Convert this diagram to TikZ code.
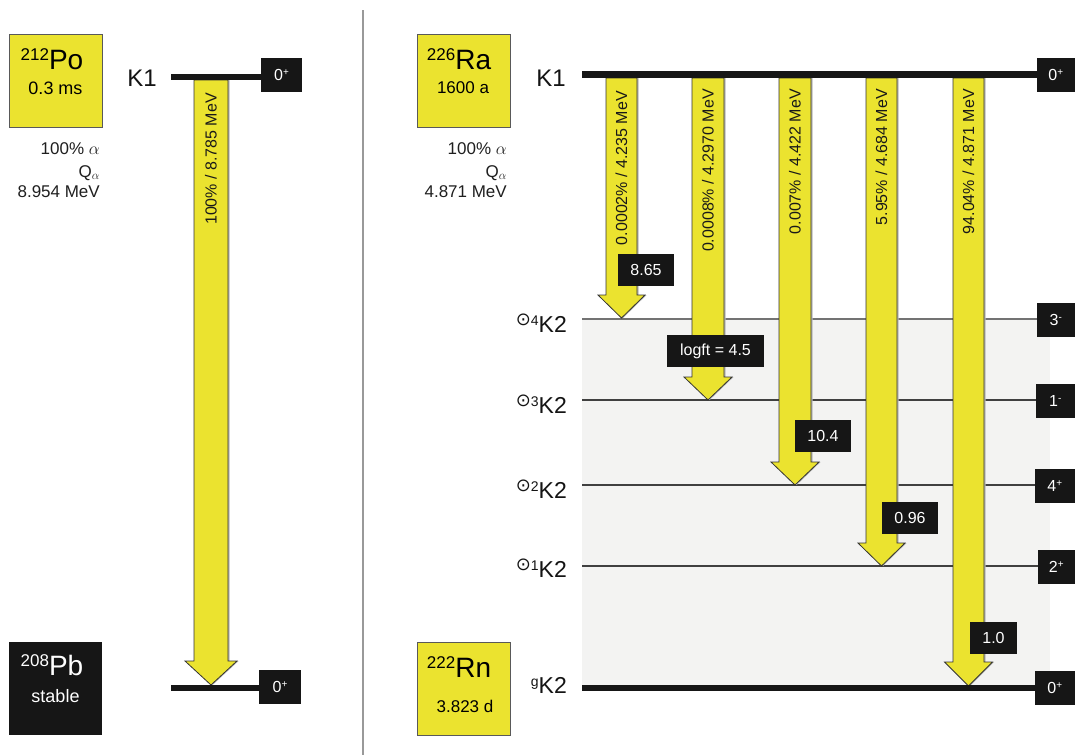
\documentclass[tikz,border=0pt]{standalone}
\usepackage{fontspec}
\setmainfont{Liberation Sans}
\newfontfamily\dvfont{DejaVu Sans}
\definecolor{ayellow}{RGB}{235,227,47}
\definecolor{boxblack}{RGB}{22,22,22}
\definecolor{bandgray}{RGB}{243,243,242}
\newcommand\fs[1]{\fontsize{#1}{#1}\selectfont}
\newcommand\decay[6]{%
 \fill[gray!55,xshift=1.6pt] (#1-#5,#2) -- (#1-#5,#3) -- (#1-#6,#3) -- (#1,#4) -- (#1+#6,#3) -- (#1+#5,#3) -- (#1+#5,#2) -- cycle;
 \draw[arrowbody] (#1-#5,#2) -- (#1-#5,#3) -- (#1-#6,#3) -- (#1,#4) -- (#1+#6,#3) -- (#1+#5,#3) -- (#1+#5,#2) -- cycle;}
\newcommand\kk[1]{\raisebox{7pt}{{\fs{18}\dvfont ⊙}{\fs{14}#1}}K2}
\begin{document}
\begin{tikzpicture}[x=1pt,y=-1pt,
 nucbox/.style={draw=black!65, line width=1pt, fill=ayellow, minimum width=93pt, minimum height=93pt, inner sep=0},
 nucdark/.style={fill=boxblack, minimum width=93pt, minimum height=93pt, inner sep=0},
 spinbox/.style={fill=boxblack, text=white, font=\fs{16}, inner sep=0, minimum width=40pt, minimum height=34pt},
 valbox/.style={fill=boxblack, text=white, font=\fs{16}, inner sep=0, minimum height=32pt},
 lvllabel/.style={anchor=base east, font=\fs{23}, inner sep=0, text=black!92},
 heavylevel/.style={line width=6.5pt, draw=boxblack},
 lightlevel/.style={line width=1.4pt, draw=black!75},
 arrowbody/.style={fill=ayellow, draw=black!80, line width=0.8pt},
 arrowtxt/.style={rotate=90, anchor=east, font=\fs{16}, inner sep=0, text=black!90},
 infotxt/.style={anchor=base east, font=\fs{17}, inner sep=0, text=black!88},
]
\useasboundingbox (0,0) rectangle (1075,755);
\fill[white] (0,0) rectangle (1075,755);

% ---------- divider ----------
\coordinate (divtop) at (363,10);
\coordinate (divbot) at (363,755);
\draw[gray!80, line width=1.5pt] (divtop) -- (divbot);

% ---------- left panel ----------
\node[nucbox] (po) at (55.5,80.5) {};
\node[anchor=base, inner sep=0] (poname) at (52,69) {{\fs{17}\raisebox{9pt}{212}}{\fs{28}Po}};
\node[anchor=base, inner sep=0, font=\fs{18}] (polife) at (55.5,94) {0.3 ms};
\node[infotxt] (poa) at (100,154) {100\% $\alpha$};
\node[infotxt] (poq) at (100,177) {Q$_\alpha$};
\node[infotxt] (poe) at (100,197) {8.954 MeV};

\node[nucdark] (pb) at (55.5,688.5) {};
\node[anchor=base, inner sep=0, text=white] (pbname) at (52,675) {{\fs{17}\raisebox{9pt}{208}}{\fs{28}Pb}};
\node[anchor=base, inner sep=0, font=\fs{18}, text=white] (pblife) at (55.5,702) {stable};

\node[lvllabel, font=\fs{24}] (lk1) at (157,86) {K1};
\coordinate (ltopA) at (171,77);
\coordinate (ltopB) at (264,77);
\coordinate (lbotA) at (171,688);
\coordinate (lbotB) at (262,688);

\decay{211}{80}{661}{685}{17}{26}
\node[arrowtxt] (lt) at (211,93) {100\% / 8.785 MeV};

\draw[heavylevel] (ltopA) -- (ltopB);
\draw[heavylevel] (lbotA) -- (lbotB);
\node[spinbox, minimum width=41pt] (ls1) at (281.5,75) {0\raisebox{5pt}{\fs{10}+}};
\node[spinbox, minimum width=42pt] (ls2) at (280,687) {0\raisebox{5pt}{\fs{10}+}};

% ---------- right panel ----------
\fill[bandgray] (582,319) rectangle (1050,688);

\node[nucbox] (ra) at (463.5,80.5) {};
\node[anchor=base, inner sep=0] (raname) at (459,69) {{\fs{17}\raisebox{9pt}{226}}{\fs{28}Ra}};
\node[anchor=base, inner sep=0, font=\fs{17}] (ralife) at (463,93) {1600 a};
\node[infotxt] (raa) at (507,154) {100\% $\alpha$};
\node[infotxt] (raq) at (507,177) {Q$_\alpha$};
\node[infotxt] (rae) at (507,197) {4.871 MeV};

\node[nucbox] (rn) at (463.5,688.5) {};
\node[anchor=base, inner sep=0] (rnname) at (459,677) {{\fs{17}\raisebox{9pt}{222}}{\fs{28}Rn}};
\node[anchor=base, inner sep=0, font=\fs{17}] (rnlife) at (465,712) {3.823 d};

\node[lvllabel, font=\fs{24}] (rk1) at (566,86) {K1};
\node[lvllabel] (l4) at (567,332) {\kk{4}};
\node[lvllabel] (l3) at (567,413) {\kk{3}};
\node[lvllabel] (l2) at (567,498) {\kk{2}};
\node[lvllabel] (l1) at (567,577) {\kk{1}};
\node[lvllabel] (lg) at (567,693) {{\fs{14}\raisebox{7pt}{g}}K2};

\coordinate (r4A) at (582,319);  \coordinate (r4B) at (1040,319);
\coordinate (r3A) at (582,400);  \coordinate (r3B) at (1040,400);
\coordinate (r2A) at (582,485);  \coordinate (r2B) at (1040,485);
\coordinate (r1A) at (582,566);  \coordinate (r1B) at (1040,566);
\coordinate (rtA) at (582,74.5); \coordinate (rtB) at (1040,74.5);
\coordinate (rgA) at (582,688);  \coordinate (rgB) at (1040,688);

\draw[lightlevel, draw=black!55] (r4A) -- (r4B);
\draw[lightlevel] (r3A) -- (r3B);
\draw[lightlevel] (r2A) -- (r2B);
\draw[lightlevel] (r1A) -- (r1B);

\decay{621.5}{78}{295}{318}{15.5}{23.5}
\decay{708}{78}{377}{400}{16}{24}
\decay{795}{78}{462}{485}{16}{24}
\decay{881.5}{78}{543}{566}{15.5}{23.5}
\decay{968.5}{78}{662}{686}{15.5}{24}

\node[arrowtxt] (t1) at (621.5,91) {0.0002\% / 4.235 MeV};
\node[arrowtxt] (t2) at (708,89) {0.0008\% / 4.2970 MeV};
\node[arrowtxt] (t3) at (795,89) {0.007\% / 4.422 MeV};
\node[arrowtxt] (t4) at (881.5,89) {5.95\% / 4.684 MeV};
\node[arrowtxt] (t5) at (968.5,89) {94.04\% / 4.871 MeV};

\draw[heavylevel] (rtA) -- (rtB);
\draw[heavylevel] (rgA) -- (rgB);

\node[valbox, minimum width=56pt] (v1) at (646,270) {8.65};
\node[valbox, minimum width=97pt] (v2) at (715.5,351) {logft = 4.5};
\node[valbox, minimum width=56pt] (v3) at (823,436) {10.4};
\node[valbox, minimum width=56pt] (v4) at (910,518) {0.96};
\node[valbox, minimum width=47pt] (v5) at (993.5,638) {1.0};

\node[spinbox, anchor=east, minimum width=38pt] (s0t) at (1075,75) {0\raisebox{5pt}{\fs{10}+}};
\node[spinbox, anchor=east, minimum width=38pt] (s4) at (1075,320) {3\raisebox{5pt}{\fs{10}-}};
\node[spinbox, anchor=east, minimum width=39pt] (s3) at (1075,401) {1\raisebox{5pt}{\fs{10}-}};
\node[spinbox, anchor=east, minimum width=40pt] (s2) at (1075,486) {4\raisebox{5pt}{\fs{10}+}};
\node[spinbox, anchor=east, minimum width=37pt] (s1) at (1075,567) {2\raisebox{5pt}{\fs{10}+}};
\node[spinbox, anchor=east, minimum width=40pt] (s0g) at (1075,688) {0\raisebox{5pt}{\fs{10}+}};
\end{tikzpicture}
\end{document}
